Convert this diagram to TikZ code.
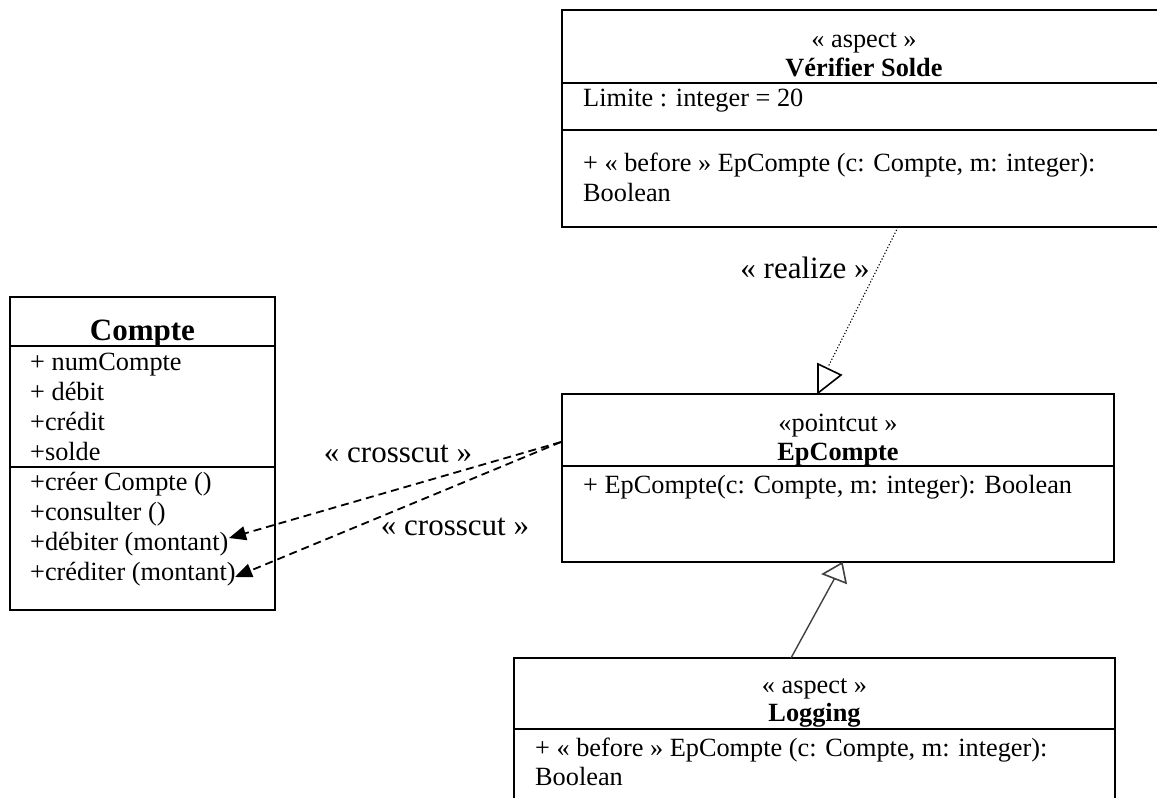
\documentclass[tikz,border=0pt]{standalone}
\usepackage{fontspec}
\setmainfont{Liberation Serif}
\usetikzlibrary{arrows.meta,fit}
\begin{document}
\begin{tikzpicture}[x=1pt,y=-1pt,
  box/.style={draw, line width=1.6pt, inner sep=0pt},
  sep/.style={line width=1.6pt},
  member/.style={anchor=base west, inner sep=0pt, font=\fontsize{26.3}{30}\selectfont},
  ctext/.style={anchor=base, inner sep=0pt, font=\fontsize{26.3}{30}\selectfont},
  ttext/.style={anchor=base, inner sep=0pt, font=\fontsize{26.3}{30}\selectfont\bfseries},
  lbl/.style={anchor=center, inner sep=0pt, font=\fontsize{31}{36}\selectfont},
  crossline/.style={line width=1.8pt, dash pattern=on 8pt off 5pt,
    -{Triangle[length=17pt,width=14pt]}},
  realizeline/.style={line width=1.1pt, dash pattern=on 1.2pt off 2pt},
  genline/.style={line width=1.4pt, black!75},
  openhead/.style={line width=1.6pt, line join=miter}]
\useasboundingbox (0,0) rectangle (1157,798);

% --- class Compte ---
\node[box, fit={(10,297) (275,610)}] (compte) {};
\draw[sep] (10,346) -- (275,346);
\draw[sep] (10,467) -- (275,467);
\node[anchor=base, inner sep=0pt, font=\fontsize{31}{36}\selectfont\bfseries] (ctitle) at (142.5,340) {Compte};
\foreach \t [count=\i] in {{+ numCompte},{+ débit},{+crédit},{+solde},
  {+créer Compte ()},{+consulter ()},{+débiter (montant)},{+créditer (montant)}}
  \node[member] (cm\i) at (30,340+30*\i) {\t};

% --- aspect Vérifier Solde (runs past the right edge) ---
\node[box, fit={(562,10) (1166,227)}] (vs) {};
\draw[sep] (562,83) -- (1166,83);
\draw[sep] (562,130) -- (1166,130);
\node[ctext] (vsst) at (864,47) {« aspect »};
\node[ttext] (vsname) at (864,76) {Vérifier Solde};
\node[member] (vsattr) at (583,106) {Limite : integer = 20};
\node[member] (vsop1) at (583,171) {+ « before » EpCompte (c: Compte, m: integer):};
\node[member] (vsop2) at (583,201) {Boolean};

% --- pointcut EpCompte ---
\node[box, fit={(562,394) (1114,562)}] (ep) {};
\draw[sep] (562,466) -- (1114,466);
\node[ctext] (epst) at (838,431) {«pointcut »};
\node[ttext] (epname) at (838,460) {EpCompte};
\node[member] (epop) at (583,493) {+ EpCompte(c: Compte, m: integer): Boolean};

% --- aspect Logging (runs past the bottom edge) ---
\node[box, fit={(514,658) (1115,830)}] (lg) {};
\draw[sep] (514,729) -- (1115,729);
\node[ctext] (lgst) at (814.5,693) {« aspect »};
\node[ttext] (lgname) at (814.5,721) {Logging};
\node[member] (lgop1) at (535,756) {+ « before » EpCompte (c: Compte, m: integer):};
\node[member] (lgop2) at (535,785) {Boolean};

% --- crosscut dependencies ---
\coordinate (epjoin) at (561,442);
\coordinate (debtip) at (229,538);
\coordinate (credtip) at (235,577);
\draw[crossline] (epjoin) -- (debtip);
\draw[crossline] (epjoin) -- (credtip);
\node[lbl] (cc1) at (398,454) {« crosscut »};
\node[lbl] (cc2) at (455,527) {« crosscut »};

% --- realize ---
\coordinate (vsfoot) at (898,227);
\coordinate (rend) at (828,367);
\draw[realizeline] (vsfoot) -- (rend);
\draw[openhead] (818,364) -- (841,375) -- (818,393) -- cycle;
\node[lbl] (rl) at (805,268) {« realize »};

% --- Logging specialises EpCompte ---
\coordinate (lgtop) at (791,658);
\coordinate (genbase) at (834.5,578.5);
\draw[genline] (lgtop) -- (genbase);
\draw[openhead, black!75] (823,574) -- (842,563) -- (846,583) -- cycle;
\end{tikzpicture}
\end{document}
